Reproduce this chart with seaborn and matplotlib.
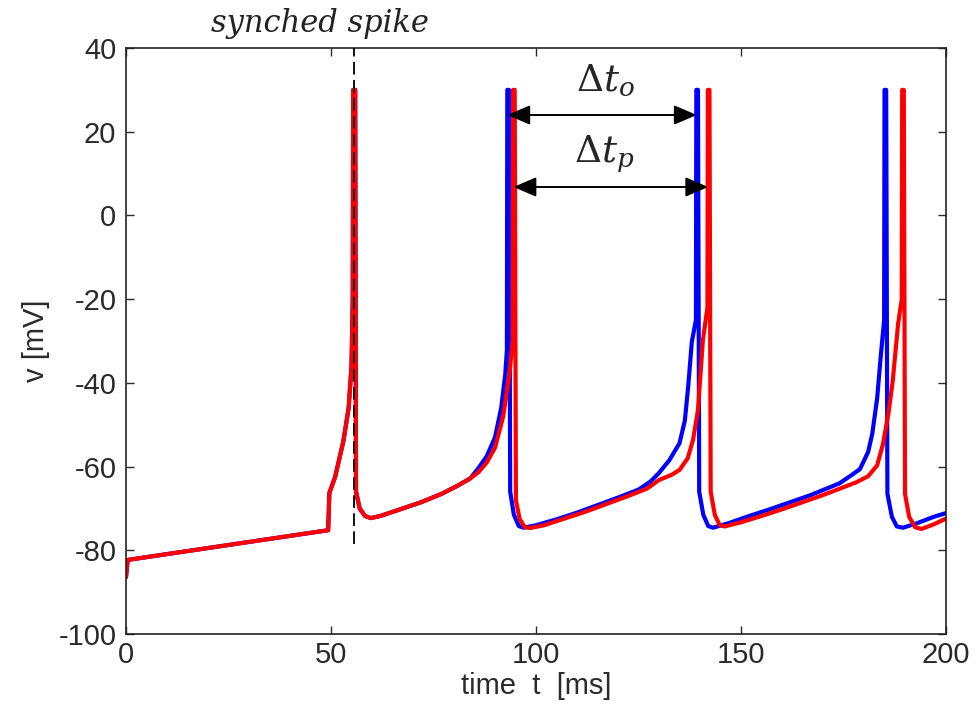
import numpy as np
import pandas as pd
import seaborn as sns
import matplotlib
matplotlib.use("Agg")
import matplotlib.pyplot as plt

# Membrane potential traces of two coupled neurons (time in ms, voltage in mV)
t_common = [0.0, 0.4, 49.3, 49.6, 51.0, 53.0, 54.3, 55.0, 55.3, 55.4, 55.9, 56.1,
            57.0, 58.3, 59.7, 62.0, 66.0, 72.0, 77.0, 81.0, 84.0]
v_common = [-86.4, -82.3, -75.2, -66.3, -62.5, -54.0, -46.0, -36.0, -20.0, 30.0, 30.0, -66.0,
            -70.0, -71.8, -72.3, -71.8, -70.5, -68.5, -66.5, -64.5, -62.8]

t_blue_tail = [86.0, 88.0, 90.0, 91.5, 92.5, 92.9, 93.0, 93.4, 93.7, 94.6, 95.8, 97.0,
               100.0, 105.0, 110.0, 115.0, 120.0, 125.0, 128.0, 130.0, 132.5, 135.0,
               136.3, 137.1, 138.0, 139.0, 139.1, 139.5, 139.8, 140.8, 142.0, 143.2,
               147.0, 152.0, 157.0, 162.0, 167.0, 171.0, 174.0, 177.0, 179.0, 181.0,
               182.0, 183.2, 184.0, 184.9, 185.0, 185.4, 185.7, 186.8, 188.0, 189.5,
               193.0, 197.0, 200.0]
v_blue_tail = [-60.3, -57.5, -53.0, -46.0, -38.0, -32.0, 30.0, 30.0, -66.0, -71.5, -74.2, -74.6,
               -74.0, -72.6, -71.0, -69.2, -67.4, -65.5, -63.5, -61.5, -58.5, -54.4,
               -49.0, -41.0, -30.2, -25.0, 30.0, 30.0, -66.0, -71.5, -74.2, -74.6,
               -73.5, -71.8, -70.2, -68.5, -66.8, -65.2, -64.0, -62.0, -60.6, -56.5,
               -52.2, -43.7, -34.5, -25.0, 30.0, 30.0, -66.5, -72.0, -74.3, -74.6,
               -73.5, -72.0, -71.1]

t_red_tail = [86.0, 88.0, 90.0, 92.0, 93.5, 94.3, 94.4, 94.8, 95.1, 96.0, 97.2, 98.5,
              102.0, 107.0, 112.0, 117.0, 122.0, 127.0, 130.0, 133.0, 135.0, 137.0,
              138.3, 139.5, 140.7, 141.8, 141.9, 142.3, 142.6, 143.6, 144.8, 146.0,
              150.0, 155.0, 160.0, 165.0, 170.0, 174.0, 178.0, 181.0, 183.2, 184.6,
              186.0, 187.0, 188.3, 189.2, 189.3, 189.7, 190.0, 191.0, 192.5, 194.0,
              197.0, 200.0]
v_red_tail = [-61.3, -59.0, -55.5, -48.0, -38.0, -30.0, 30.0, 30.0, -68.0, -72.5, -74.4, -74.7,
              -74.0, -72.4, -70.8, -69.0, -67.2, -65.3, -63.2, -62.0, -60.8, -58.0,
              -53.6, -46.5, -29.8, -22.0, 30.0, 30.0, -66.0, -71.5, -74.0, -74.3,
              -73.3, -71.8, -70.2, -68.5, -66.8, -65.3, -63.8, -62.3, -59.7, -54.7,
              -47.0, -39.5, -26.0, -20.0, 30.0, 30.0, -66.5, -72.0, -74.5, -74.9,
              -73.8, -72.4]

# Synchronised spike marker and interval annotations
sync_time = 55.6
sync_line_bottom = -78.5
blue_spikes = [93.0, 139.2]
red_spikes = [94.5, 142.0]
interval_labels = [r"$\Delta t_o$", r"$\Delta t_p$"]

x_ticks = [0, 50, 100, 150, 200]
y_ticks = [-100, -80, -60, -40, -20, 0, 20, 40]

df = pd.concat([
    pd.DataFrame({"t": t_common + t_blue_tail, "v": v_common + v_blue_tail, "cell": "blue"}),
    pd.DataFrame({"t": t_common + t_red_tail, "v": v_common + v_red_tail, "cell": "red"}),
], ignore_index=True)

sns.set_theme(style="white")
plt.rcParams["font.family"] = ["Liberation Sans", "DejaVu Sans"]
plt.rcParams["axes.unicode_minus"] = False
plt.rcParams["mathtext.fontset"] = "dejavuserif"

fig = plt.figure(figsize=(9.76, 7.2), dpi=100)
ax = fig.add_axes([0.1291, 0.1194, 0.8402, 0.8139])

sns.lineplot(data=df, x="t", y="v", hue="cell", hue_order=["blue", "red"],
             palette={"blue": "#0000ff", "red": "#ff0000"}, estimator=None,
             sort=False, linewidth=3.0, legend=False, ax=ax)

ax.vlines(sync_time, sync_line_bottom, 40, colors="black", linestyles=(0, (7, 3)),
          linewidth=1.3, zorder=5)

ax.set_xlim(0, 200)
ax.set_ylim(-100, 40)
ax.set_xticks(x_ticks)
ax.set_yticks(y_ticks)
ax.set_xticklabels([str(v) for v in x_ticks])
ax.set_yticklabels([str(v) for v in y_ticks])
ax.tick_params(direction="in", length=6, width=1, labelsize=21, colors="#2a2a2a",
               top=True, right=True, bottom=True, left=True, pad=7)
ax.tick_params(axis="x", pad=5)
for s in ax.spines.values():
    s.set_visible(True)
    s.set_color("#222222")
    s.set_linewidth(1.2)

ax.set_xlabel("time  t  [ms]", fontsize=21, color="#2a2a2a", labelpad=2)
ax.set_ylabel("v [mV]", fontsize=21, color="#2a2a2a", labelpad=6)

# Inter-spike interval arrows
arrow_kw = dict(arrowstyle="<|-|>,head_length=0.7,head_width=0.3", color="black",
                lw=1.4, mutation_scale=20, shrinkA=0, shrinkB=0)
ax.annotate("", xy=(blue_spikes[1], 24.0), xytext=(blue_spikes[0], 24.0),
            arrowprops=arrow_kw, zorder=6)
ax.annotate("", xy=(red_spikes[1], 6.8), xytext=(red_spikes[0], 6.8),
            arrowprops=arrow_kw, zorder=6)
ax.text(117.0, 32.0, interval_labels[0], fontsize=27, ha="center", va="center")
ax.text(116.5, 14.5, interval_labels[1], fontsize=27, ha="center", va="center")

fig.text(0.328, 0.968, "synched spike", family="DejaVu Serif", style="italic",
         fontsize=22, ha="center", va="center", color="#222222")

fig.savefig("out.png", dpi=100, facecolor="white")
